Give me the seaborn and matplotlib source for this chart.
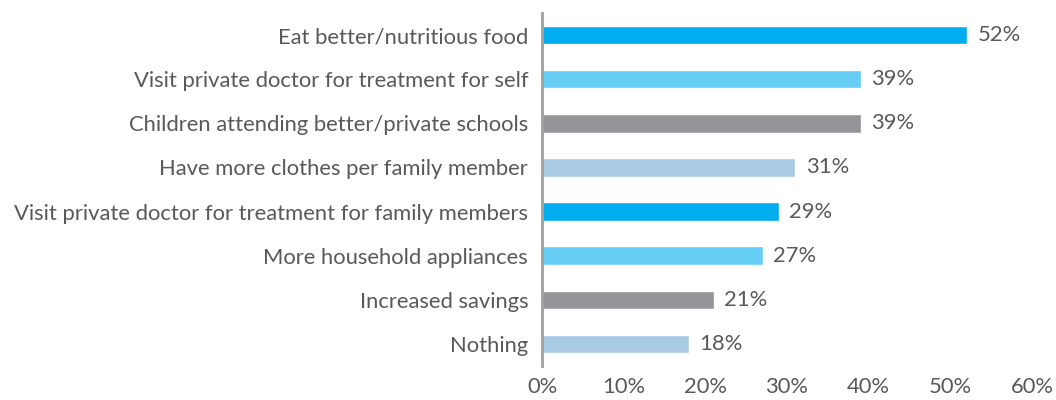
import matplotlib
matplotlib.use("Agg")
import matplotlib.pyplot as plt
import seaborn as sns
import pandas as pd

categories = [
    "Eat better/nutritious food",
    "Visit private doctor for treatment for self",
    "Children attending better/private schools",
    "Have more clothes per family member",
    "Visit private doctor for treatment for family members",
    "More household appliances",
    "Increased savings",
    "Nothing",
]
values = [52, 39, 39, 31, 29, 27, 21, 18]
bar_colors = ["#00AEEF", "#66CDF5", "#939598", "#A9CAE3",
              "#00AEEF", "#66CDF5", "#939598", "#A9CAE3"]
xticks = [0, 10, 20, 30, 40, 50, 60]

df = pd.DataFrame({"category": categories, "value": values})

sns.set_style("white")
plt.rcParams["font.family"] = ["Lato", "DejaVu Sans"]
text_color = "#595959"
fs = 15.8

fig = plt.figure(figsize=(10.56, 4.0), dpi=100)
ax = fig.add_axes([0.5133, 0.085, 0.4640, 0.8825])

sns.barplot(data=df, x="value", y="category", hue="category",
            palette=bar_colors, legend=False, width=0.42,
            saturation=1, ax=ax)

for i, v in enumerate(values):
    ax.text(v + 1.3, i, f"{v}%", va="center", ha="left",
            fontsize=fs, color=text_color)

ax.set_xlim(0, 60)
ax.set_xticks(xticks)
ax.set_xticklabels([f"{t}%" for t in xticks])
ax.set_xlabel("")
ax.set_ylabel("")
ax.tick_params(axis="x", length=0, pad=8, labelsize=fs, labelcolor=text_color)
ax.tick_params(axis="y", length=0, pad=10, labelsize=fs, labelcolor=text_color)

for side in ["top", "right", "bottom"]:
    ax.spines[side].set_visible(False)
ax.spines["left"].set_color("#A0A0A0")
ax.spines["left"].set_linewidth(2)

fig.savefig("out.png", dpi=100)
